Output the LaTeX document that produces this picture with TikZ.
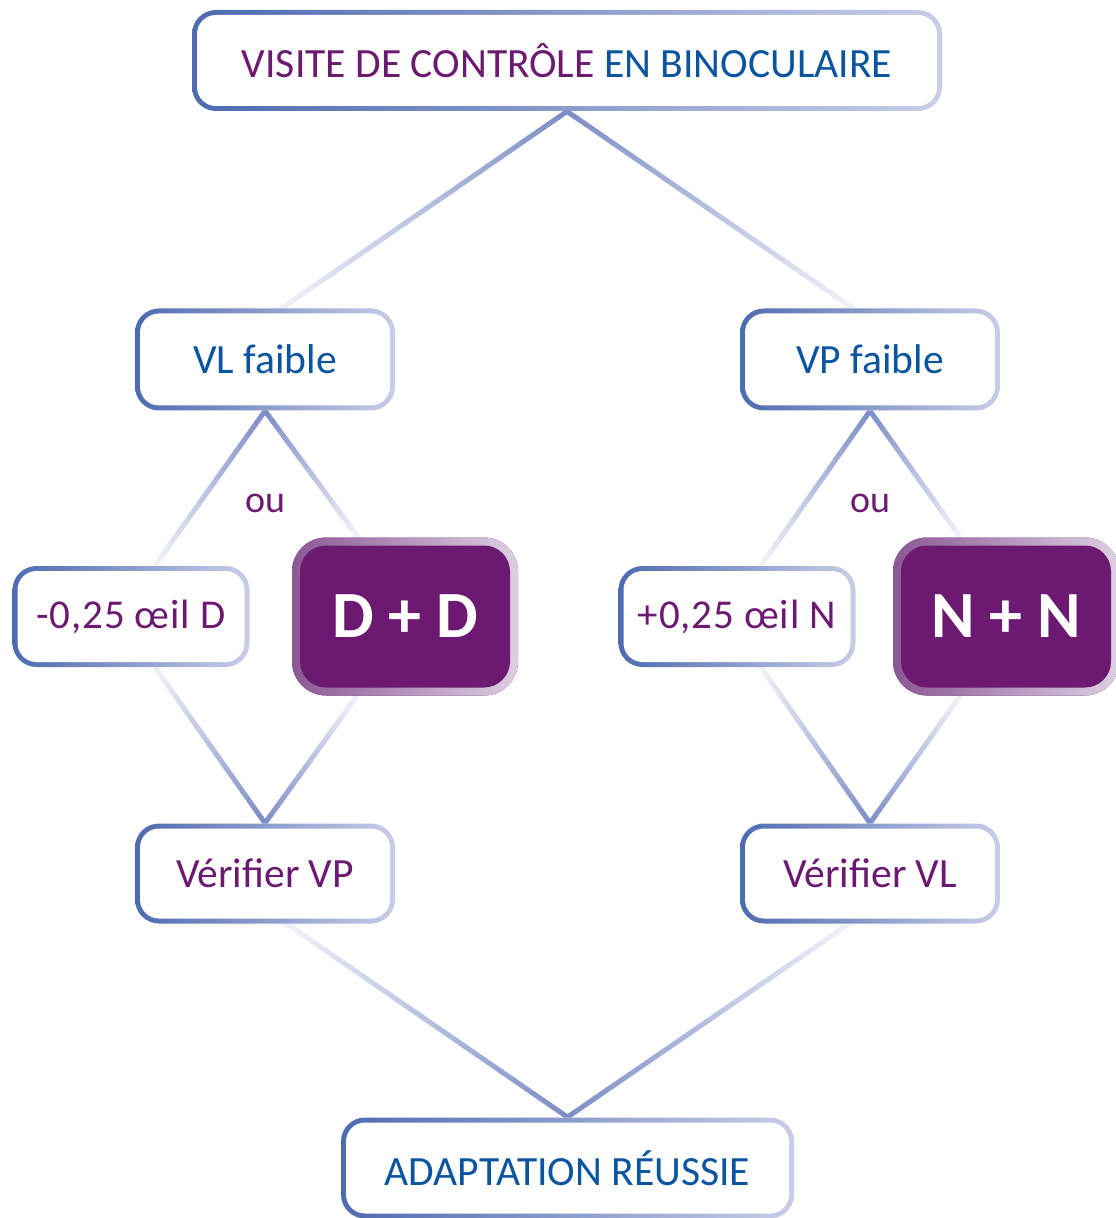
\documentclass[tikz,border=0pt]{standalone}
\usepackage{fontspec}
\setmainfont{Carlito}
\usetikzlibrary{positioning,calc,backgrounds}

\definecolor{prune}{HTML}{6C1A71}
\definecolor{marine}{HTML}{0B55A0}
\definecolor{bordg}{HTML}{4E6BB0}
\definecolor{bordd}{HTML}{C8CDE8}
\definecolor{pruneg}{HTML}{8B5894}
\definecolor{pruned}{HTML}{DDD0E3}
\definecolor{liena}{HTML}{7D8EC6}
\definecolor{lienb}{HTML}{EEF0F8}

\tikzset{
	bloc/.style={rectangle, rounded corners=12pt, fill=white, inner sep=0pt,
		minimum width=130pt, minimum height=51pt, text=prune,
		font=\fontsize{20.8pt}{24pt}\selectfont,
		path picture={
			\shade[left color=bordg, right color=bordd] (path picture bounding box.south west) rectangle (path picture bounding box.north east);
			\fill[white, rounded corners=9.5pt] ([shift={(2.5pt,2.5pt)}]path picture bounding box.south west) rectangle ([shift={(-2.5pt,-2.5pt)}]path picture bounding box.north east);
		}},
	petit/.style={bloc, minimum width=118.5pt, minimum height=50.5pt, font=\fontsize{20.5pt}{22pt}\selectfont\addfontfeatures{LetterSpace=2}},
	choix/.style={rectangle, rounded corners=17pt, fill=prune, inner sep=0pt,
		minimum width=113pt, minimum height=79pt, text=white,
		font=\bfseries\fontsize{33pt}{38pt}\selectfont,
		path picture={
			\shade[left color=pruneg, right color=pruned] (path picture bounding box.south west) rectangle (path picture bounding box.north east);
			\fill[prune, rounded corners=13pt] ([shift={(4pt,4pt)}]path picture bounding box.south west) rectangle ([shift={(-4pt,-4pt)}]path picture bounding box.north east);
		}},
	trait/.style={line width=2.5pt, line cap=round},
	ou/.style={text=prune, font=\fontsize{19pt}{22pt}\selectfont, inner sep=0pt}
}

% trait en degrade : #1 extremite foncee, #2 extremite claire
\newcommand\lien[2]{%
	\foreach \i [evaluate=\i as \ta using (\i-1)/30,
	             evaluate=\i as \tb using \i/30,
	             evaluate=\i as \mix using int(100-100*(\i-1)/29)] in {1,...,30}
		\draw[trait, draw=liena!\mix!lienb] ($(#1)!\ta!(#2)$) -- ($(#1)!\tb!(#2)$);
}

\begin{document}
\begin{tikzpicture}[on grid]
	\useasboundingbox (0,0) rectangle (557.5pt,-609pt);

	\node[bloc, text=marine, minimum width=375pt, minimum height=50.5pt] (top) at (283.5pt,-30.25pt) {{\color{prune}VISITE DE CONTRÔLE} EN BINOCULAIRE};

	\node[bloc, text=marine] (vl) [below left=149.5pt and 151pt of top] {VL faible};
	\node[bloc, text=marine] (vp) [below right=149.5pt and 151.5pt of top] {VP faible};

	\node[ou] (ou1) [below=72pt of vl] {ou};
	\node[ou] (ou2) [below=72pt of vp] {ou};

	\node[petit] (moins) [below left=128.5pt and 67pt of vl] {-0,25 œil D};
	\node[choix] (dd) [below right=128.5pt and 70pt of vl] {D + D};
	\node[petit] (plus) [below left=128.5pt and 66.5pt of vp] {+0,25 œil N};
	\node[choix] (nn) [below right=128.5pt and 68pt of vp] {N + N};

	\node[bloc, minimum height=50pt] (vervp) [below=257pt of vl] {Vérifier VP};
	\node[bloc, minimum height=50pt] (vervl) [below=257pt of vp] {Vérifier VL};

	\node[bloc, text=marine, minimum width=226.5pt, minimum height=50.5pt] (adapt) [below right=147.25pt and 151.25pt of vervp] {ADAPTATION RÉUSSIE};

	% points d'arrivee des traits
	\coordinate (vl-h) at ($(vl.north)+(8.5pt,0)$);
	\coordinate (vp-h) at ($(vp.north)+(-8.5pt,0)$);
	\coordinate (moins-h) at ($(moins.north)+(12pt,0)$);
	\coordinate (moins-b) at ($(moins.south)+(12pt,0)$);
	\coordinate (dd-h) at ($(dd.north)+(-23.5pt,0)$);
	\coordinate (dd-b) at ($(dd.south)+(-24pt,0)$);
	\coordinate (plus-h) at ($(plus.north)+(12pt,0)$);
	\coordinate (plus-b) at ($(plus.south)+(12pt,0)$);
	\coordinate (nn-h) at ($(nn.north)+(-23pt,0)$);
	\coordinate (nn-b) at ($(nn.south)+(-23pt,0)$);
	\coordinate (vervp-b) at ($(vervp.south)+(11pt,0)$);
	\coordinate (vervl-b) at ($(vervl.south)+(-10.5pt,0)$);

	\begin{scope}[on background layer]
		\lien{top.south}{vl-h}
		\lien{top.south}{vp-h}
		\lien{vl.south}{moins-h}
		\lien{vl.south}{dd-h}
		\lien{vp.south}{plus-h}
		\lien{vp.south}{nn-h}
		\lien{vervp.north}{moins-b}
		\lien{vervp.north}{dd-b}
		\lien{vervl.north}{plus-b}
		\lien{vervl.north}{nn-b}
		\lien{adapt.north}{vervp-b}
		\lien{adapt.north}{vervl-b}
	\end{scope}
\end{tikzpicture}
\end{document}
